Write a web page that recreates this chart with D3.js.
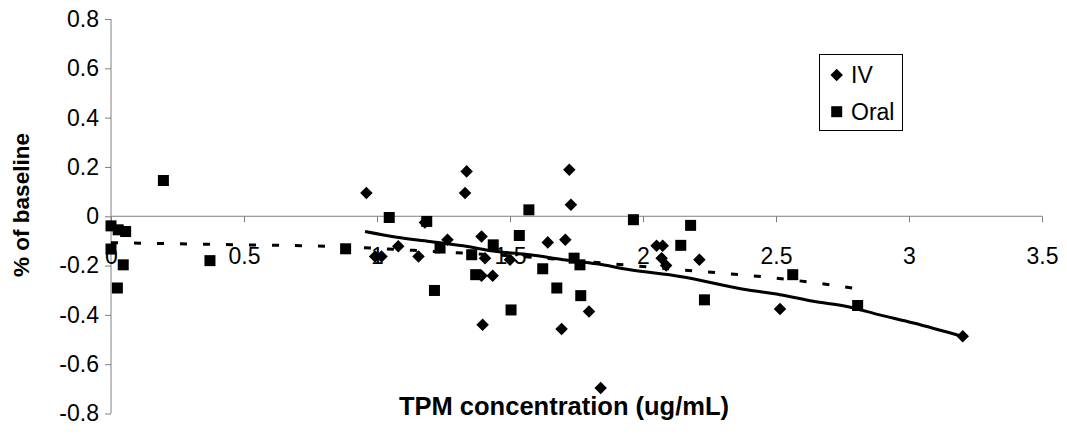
<!DOCTYPE html>
<html>
<head>
<meta charset="utf-8">
<script src="https://cdn.jsdelivr.net/npm/d3@7"></script>
<style>
  html, body { margin: 0; padding: 0; background: #fff; }
  svg { display: block; }
  text { font-family: "Liberation Sans", Arial, sans-serif; fill: #000; }
</style>
</head>
<body>
<svg id="chart" width="1067" height="447"></svg>
<script>
// ---- data ----
const ivX = [0.96, 1.337, 1.331, 1.723, 1.729, 0.993, 1.017, 1.08, 1.156, 1.18, 1.265, 1.393, 1.406, 1.393, 1.435, 1.5, 1.397, 1.642, 1.708, 1.694, 1.797, 1.841, 2.051, 2.074, 2.07, 2.087, 2.212, 2.515, 3.202];
const ivY = [0.094, 0.182, 0.094, 0.189, 0.047, -0.163, -0.163, -0.122, -0.163, -0.025, -0.095, -0.082, -0.17, -0.241, -0.241, -0.176, -0.44, -0.106, -0.095, -0.457, -0.386, -0.697, -0.12, -0.12, -0.17, -0.2, -0.176, -0.376, -0.487];

const oralX = [0.197, 0.0, 0.027, 0.055, 0.0, 0.046, 0.024, 0.372, 0.882, 1.046, 1.187, 1.237, 1.216, 1.356, 1.371, 1.437, 1.535, 1.571, 1.504, 1.623, 1.676, 1.741, 1.763, 1.766, 1.964, 2.179, 2.142, 2.231, 2.563, 2.807];
const oralY = [0.145, -0.039, -0.055, -0.062, -0.133, -0.197, -0.291, -0.18, -0.132, -0.005, -0.021, -0.129, -0.301, -0.156, -0.237, -0.116, -0.078, 0.026, -0.38, -0.213, -0.291, -0.17, -0.197, -0.322, -0.014, -0.037, -0.118, -0.339, -0.237, -0.362];

// trendlines
const ivTrendX = [0.955, 1.074, 1.199, 1.324, 1.45, 1.575, 1.7, 1.826, 1.951, 2.139, 2.39, 2.515, 2.64, 2.766, 2.89, 3.017, 3.2];
const ivTrendY = [-0.062, -0.085, -0.102, -0.12, -0.143, -0.156, -0.176, -0.193, -0.217, -0.244, -0.298, -0.318, -0.345, -0.366, -0.4, -0.433, -0.487];
const oralTrendX = [0.0, 0.5, 0.82, 1.2, 1.6, 2.14, 2.32, 2.5, 2.8];
const oralTrendY = [-0.107, -0.116, -0.122, -0.142, -0.168, -0.217, -0.233, -0.251, -0.293];

const xTicks = [0, 0.5, 1, 1.5, 2, 2.5, 3, 3.5];
const yTicks = [-0.8, -0.6, -0.4, -0.2, 0, 0.2, 0.4, 0.6, 0.8];
const yTickLabels = ["-0.8", "-0.6", "-0.4", "-0.2", "0", "0.2", "0.4", "0.6", "0.8"];
const xTickLabels = ["0", "0.5", "1", "1.5", "2", "2.5", "3", "3.5"];
const seriesNames = ["IV", "Oral"];
const xTitle = "TPM concentration (ug/mL)";
const yTitle = "% of baseline";

// ---- drawing ----
const svg = d3.select("#chart");
const x = d3.scaleLinear().domain([0, 3.5]).range([111, 1042]);
const y = d3.scaleLinear().domain([-0.8, 0.8]).range([413.5, 19]);
const axisColor = "#808080";

// y axis
const gy = svg.append("g").attr("transform", `translate(${x(0)},0)`)
  .call(d3.axisLeft(y).tickValues(yTicks).tickSize(6).tickPadding(6)
        .tickFormat((d, i) => yTickLabels[i]));
gy.select(".domain").attr("stroke", axisColor).attr("d", `M-0,${y(0.8)}V${y(-0.8)}`);
gy.selectAll(".tick line").attr("stroke", axisColor);
gy.selectAll(".tick text").style("font-size", "23px").attr("font-family", "Liberation Sans, Arial, sans-serif");

// x axis at y = 0
const gx = svg.append("g").attr("transform", `translate(0,${y(0)})`)
  .call(d3.axisBottom(x).tickValues(xTicks).tickSize(6).tickPadding(25)
        .tickFormat((d, i) => xTickLabels[i]));
gx.select(".domain").attr("stroke", axisColor).attr("d", `M${x(0)},0H${x(3.5)}`);
gx.selectAll(".tick line").attr("stroke", axisColor);
gx.selectAll(".tick text").style("font-size", "23px").attr("font-family", "Liberation Sans, Arial, sans-serif");

// markers
const diamond = d3.symbol().type(d3.symbolDiamond2).size(100);
svg.append("g").selectAll("path").data(d3.range(ivX.length)).join("path")
  .attr("d", diamond)
  .attr("transform", i => `translate(${x(ivX[i])},${y(ivY[i])})`)
  .attr("fill", "#000");

const sq = 11;
svg.append("g").selectAll("rect").data(d3.range(oralX.length)).join("rect")
  .attr("x", i => x(oralX[i]) - sq / 2)
  .attr("y", i => y(oralY[i]) - sq / 2)
  .attr("width", sq).attr("height", sq)
  .attr("fill", "#000");

// trendlines
const line = d3.line().x(d => x(d[0])).y(d => y(d[1])).curve(d3.curveMonotoneX);
svg.append("path")
  .attr("d", line(ivTrendX.map((v, i) => [v, ivTrendY[i]])))
  .attr("fill", "none").attr("stroke", "#000").attr("stroke-width", 3);
svg.append("path")
  .attr("d", line(oralTrendX.map((v, i) => [v, oralTrendY[i]])))
  .attr("fill", "none").attr("stroke", "#000").attr("stroke-width", 3)
  .attr("stroke-dasharray", "7,16");

// axis titles
svg.append("text").attr("x", 564).attr("y", 415).attr("text-anchor", "middle")
  .style("font-size", "25.5px").style("font-weight", "bold").text(xTitle);
svg.append("text").attr("transform", `translate(29,205) rotate(-90)`)
  .attr("text-anchor", "middle")
  .style("font-size", "22.5px").style("font-weight", "bold").text(yTitle);

// legend
const lg = svg.append("g");
lg.append("rect").attr("x", 819.5).attr("y", 54.5).attr("width", 83).attr("height", 76)
  .attr("fill", "#fff").attr("stroke", "#000").attr("stroke-width", 1);
lg.append("path").attr("d", diamond).attr("transform", "translate(836.7,75)").attr("fill", "#000");
lg.append("rect").attr("x", 836.7 - sq / 2).attr("y", 111.7 - sq / 2).attr("width", sq).attr("height", sq).attr("fill", "#000");
lg.append("text").attr("x", 851).attr("y", 83).style("font-size", "23px").text(seriesNames[0]);
lg.append("text").attr("x", 851).attr("y", 120).style("font-size", "23px").text(seriesNames[1]);
</script>
</body>
</html>
